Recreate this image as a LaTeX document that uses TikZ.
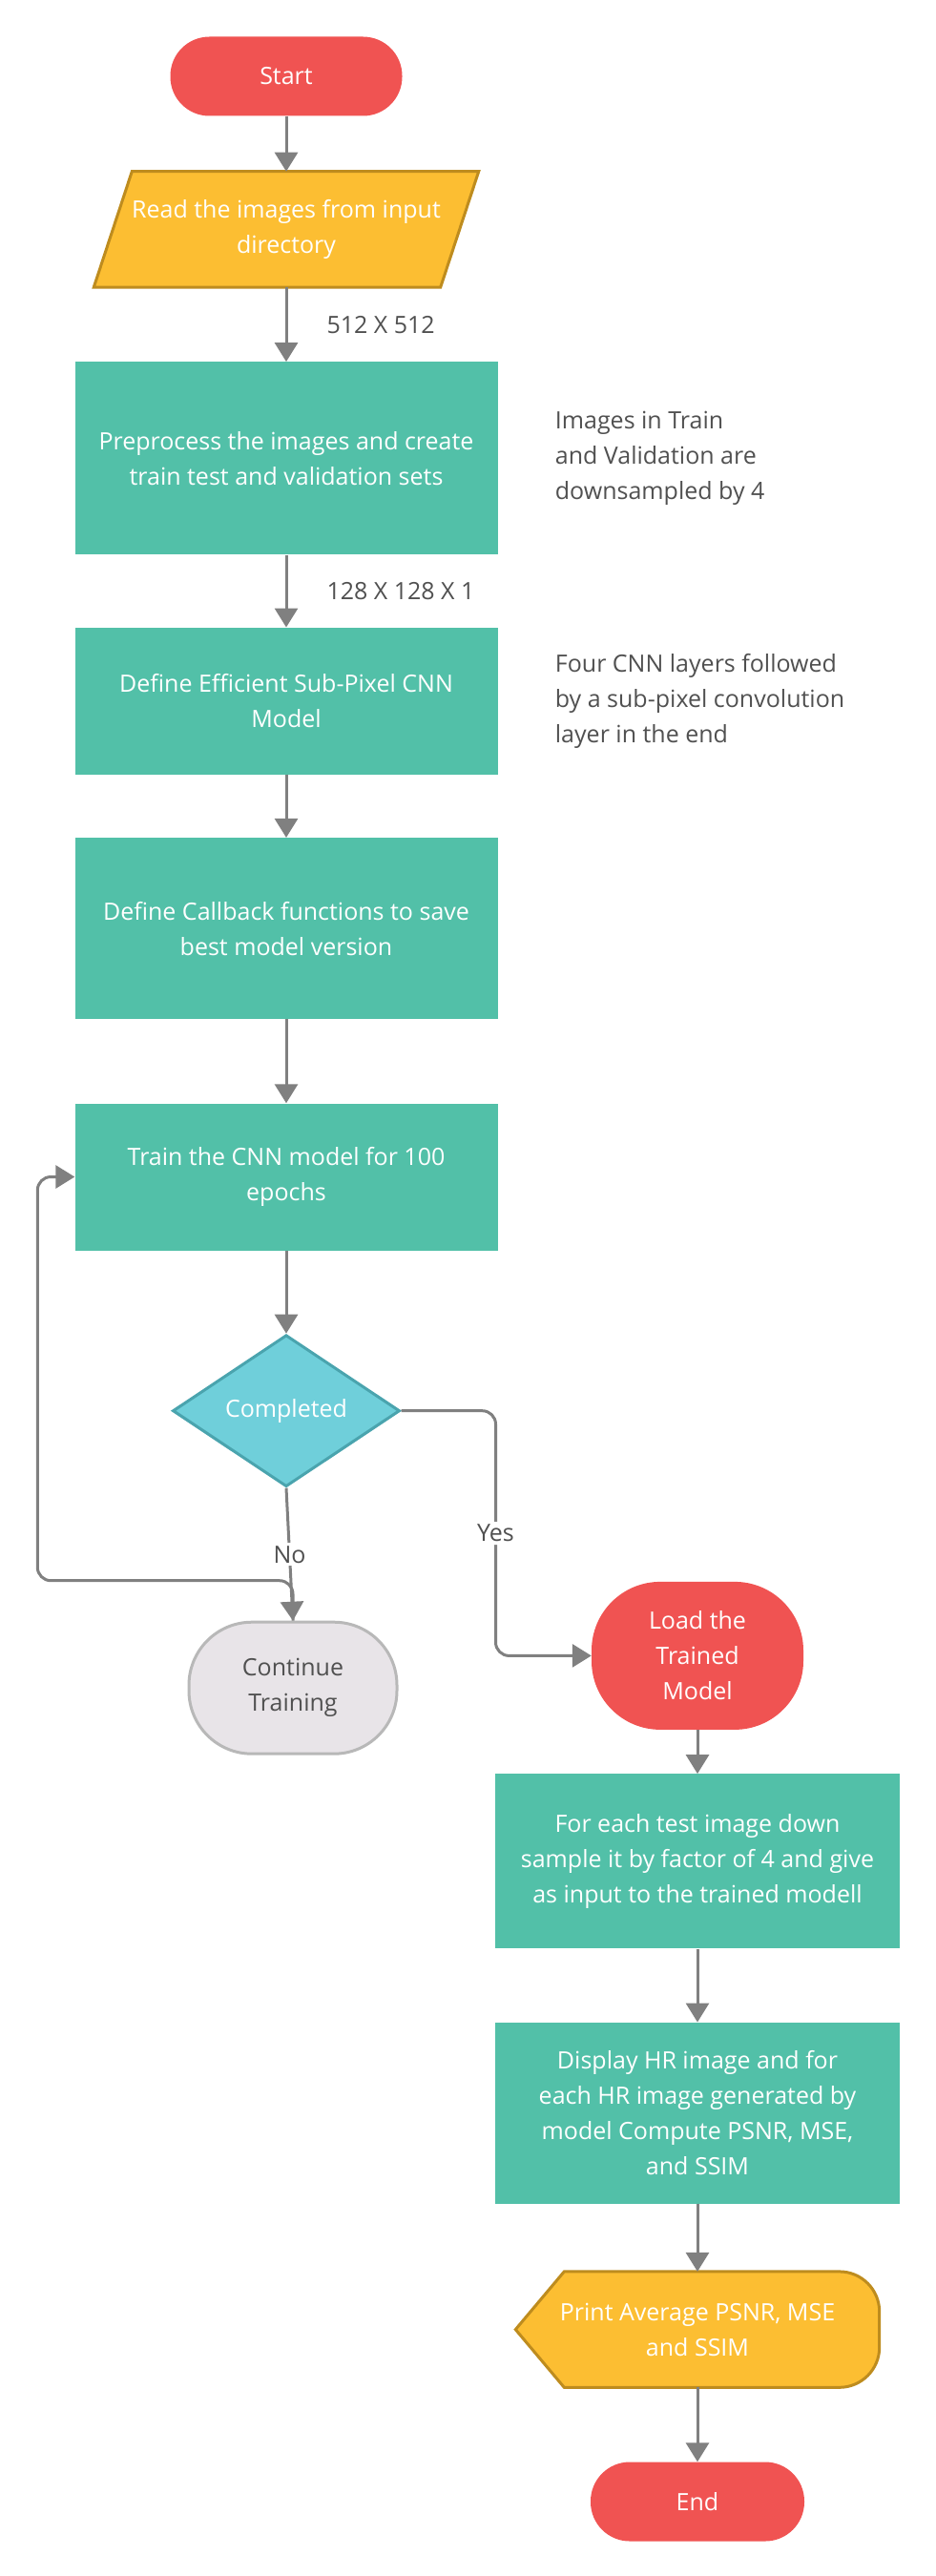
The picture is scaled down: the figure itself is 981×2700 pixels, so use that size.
\documentclass[tikz,border=0pt]{standalone}
\usepackage{fontspec}
\setmainfont{Open Sans}
\usetikzlibrary{shapes.geometric, arrows.meta, positioning, backgrounds}
\definecolor{termred}{RGB}{240,83,82}
\definecolor{ioyellow}{RGB}{252,190,50}
\definecolor{iogold}{RGB}{190,140,30}
\definecolor{procteal}{RGB}{82,192,168}
\definecolor{decblue}{RGB}{111,207,218}
\definecolor{decedge}{RGB}{74,164,174}
\definecolor{contfill}{RGB}{232,228,232}
\definecolor{contedge}{RGB}{184,184,184}
\definecolor{linegray}{RGB}{128,128,128}
\definecolor{txtgray}{RGB}{80,80,80}

\begin{document}
\begin{tikzpicture}[
            font=\fontsize{25}{37}\selectfont,
            term/.style={fill=termred, text=white, rounded corners=41pt, minimum width=243pt, minimum height=83pt, align=center},
            iotext/.style={text=white, minimum width=363pt, minimum height=121pt, inner sep=0pt, align=center},
            iobox/.style={draw=iogold, line width=3pt, fill=ioyellow, line join=miter},
            proc/.style={fill=procteal, text=white, minimum width=443pt, align=center},
            procb/.style={proc, minimum width=424pt},
            decide/.style={diamond, draw=decedge, line width=3pt, fill=decblue, text=white, shape aspect=1.5, inner sep=0pt, minimum width=238pt, minimum height=159pt},
            blob/.style={rounded corners=72pt, minimum width=222pt, minimum height=155pt, align=center},
            note/.style={text=txtgray, align=left, inner sep=0pt},
            lbl/.style={text=txtgray, inner sep=3pt},
            arr/.style={-{Triangle[length=20pt, width=24pt]}, line width=3pt, draw=linegray}
        ]
            \useasboundingbox (0,0) rectangle (981pt,-2700pt);

            % left column
            \node[term] (start) at (300pt,-80pt) {Start};
            \node[iotext, below=58pt of start] (read) {Read the images from input\\directory};
            \node[proc, minimum height=202pt, below=78pt of read] (prep) {Preprocess the images and create\\train test and validation sets};
            \node[proc, minimum height=154pt, below=76pt of prep] (espcn) {Define Efficient Sub-Pixel CNN\\Model};
            \node[proc, minimum height=190pt, below=66pt of espcn] (callb) {Define Callback functions to save\\best model version};
            \node[proc, minimum height=154pt, below=88pt of callb] (train) {Train the CNN model for 100\\epochs};
            \node[decide, below=87pt of train] (done) {Completed};
            \node[blob, rounded corners=66pt, fill=contfill, draw=contedge, line width=3pt, text=txtgray, minimum width=218pt, minimum height=138pt, below=139pt of done, xshift=7pt] (cont) {Continue\\Training};

            % right column
            \node[blob, fill=termred, text=white, below=98pt of done, xshift=431pt] (load) {Load the\\Trained\\Model};
            \node[procb, minimum height=183pt, below=46pt of load] (down) {For each test image down\\sample it by factor of 4 and give\\as input to the trained modell};
            \node[procb, minimum height=190pt, below=77pt of down] (hr) {Display HR image and for\\each HR image generated by\\model Compute PSNR, MSE,\\and SSIM};
            \node[iotext, minimum width=381pt, below=71pt of hr] (avg) {Print Average PSNR, MSE\\and SSIM};
            \node[term, minimum width=224pt, below=78pt of avg] (end) {End};

            % notes
            \node[note, right=60pt of prep] (note1) {Images in Train\\and Validation are\\downsampled by 4};
            \node[note, right=60pt of espcn] (note2) {Four CNN layers followed\\by a sub-pixel convolution\\layer in the end};

            % shapes behind the text
            \begin{scope}[on background layer]
                \draw[iobox] ([xshift=20pt]read.north west) -- ([xshift=20pt]read.north east) -- ([xshift=-20pt]read.south east) -- ([xshift=-20pt]read.south west) -- cycle;
                \draw[iobox] (avg.west) -- ([xshift=51pt]avg.north west) -- ([xshift=-42pt]avg.north east) arc[start angle=90, end angle=0, radius=42pt] -- ([yshift=42pt]avg.south east) arc[start angle=0, end angle=-90, radius=42pt] -- ([xshift=51pt]avg.south west) -- cycle;
            \end{scope}

            \coordinate (yc) at ([xshift=99pt]done.east |- load.west);
            \path (cont.north) ++(0,42pt) coordinate (lc0);
            \coordinate (lc) at ([xshift=-39pt]train.west |- lc0);

            \draw[arr] (start.south) -- (read.north);
            \draw[arr] (read.south) -- node[lbl, right=38pt] {512 X 512} (prep.north);
            \draw[arr] (prep.south) -- node[lbl, right=38pt] {128 X 128 X 1} (espcn.north);
            \draw[arr] (espcn.south) -- (callb.north);
            \draw[arr] (callb.south) -- (train.north);
            \draw[arr] (train.south) -- (done.north);
            \draw[arr] (done.south) -- node[lbl, fill=white] {No} (cont.north);
            \draw[arr, rounded corners=14pt] (cont.north) |- (lc) |- (train.west);
            \draw[arr, rounded corners=14pt] (done.east) -| (yc) node[lbl, fill=white, pos=0.75] {Yes} -- (load.west);
            \draw[arr] (load.south) -- (down.north);
            \draw[arr] (down.south) -- (hr.north);
            \draw[arr] (hr.south) -- (avg.north);
            \draw[arr] (avg.south) -- (end.north);
        \end{tikzpicture}
\end{document}
